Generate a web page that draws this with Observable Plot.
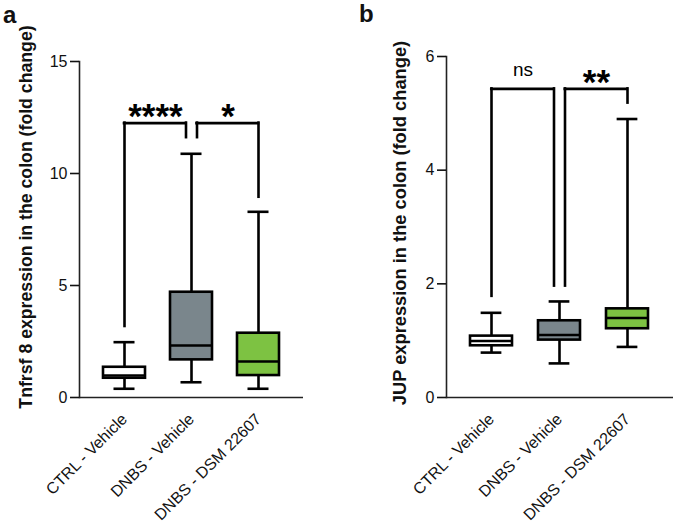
<!DOCTYPE html>
<html><head><meta charset="utf-8">
<script src="https://cdn.jsdelivr.net/npm/d3@7"></script>
<script src="https://cdn.jsdelivr.net/npm/@observablehq/plot@0.6"></script>
<style>
body{margin:0;background:#fff;}
#wrap{position:relative;width:675px;height:527px;font-family:"Liberation Sans",Arial,sans-serif;overflow:hidden;}
.panel{position:absolute;top:0;}
.letter{position:absolute;font-weight:bold;font-size:24px;line-height:26px;color:#111;}
</style></head><body>
<div id="wrap">
  <div id="pa" class="panel" style="left:0px"></div>
  <div id="pb" class="panel" style="left:340px"></div>
  <div class="letter" style="left:3px;top:2px">a</div>
  <div class="letter" style="left:359px;top:1px">b</div>
</div>
<script>
// ---------- data ----------
const groups = ["CTRL - Vehicle", "DNBS - Vehicle", "DNBS - DSM 22607"];
const boxFills = ["#ffffff", "#7a868c", "#7dc242"];

// panel a: Tnfrsf 8
const aLabel = "Tnfrsf 8 expression in the colon (fold change)";
const aMin = [0.39, 0.68, 0.39];
const aQ1 = [0.86, 1.68, 0.98];
const aMed = [0.98, 2.32, 1.61];
const aQ3 = [1.35, 4.70, 2.87];
const aMax = [2.47, 10.88, 8.29];
const aTicks = [0, 5, 10, 15];
const aCompFrom = ["CTRL - Vehicle", "DNBS - Vehicle"];
const aCompTo = ["DNBS - Vehicle", "DNBS - DSM 22607"];
const aCompY = [12.25, 12.25];
const aCompYFrom = [3.17, 11.6];
const aCompYTo = [11.6, 8.94];
const aCompText = ["****", "*"];

// panel b: JUP
const bLabel = "JUP expression in the colon (fold change)";
const bMin = [0.79, 0.60, 0.89];
const bQ1 = [0.91, 1.01, 1.21];
const bMed = [0.995, 1.10, 1.40];
const bQ3 = [1.08, 1.35, 1.56];
const bMax = [1.49, 1.69, 4.90];
const bTicks = [0, 2, 4, 6];
const bCompFrom = ["CTRL - Vehicle", "DNBS - Vehicle"];
const bCompTo = ["DNBS - Vehicle", "DNBS - DSM 22607"];
const bCompY = [5.43, 5.43];
const bCompYFrom = [1.78, 1.96];
const bCompYTo = [1.96, 5.18];
const bCompText = ["ns", "**"];

// ---------- drawing ----------
const FONT = "'Liberation Sans', Arial, sans-serif";
const LW = 2.6;

function panel(o) {
  const rows = groups.map((g, i) => ({group: g, fill: boxFills[i], min: o.min[i], q1: o.q1[i], med: o.med[i], q3: o.q3[i], max: o.max[i]}));
  const comps = o.from.map((f, i) => ({from: f, to: o.to[i], y: o.y[i], yFrom: o.yFrom[i], yTo: o.yTo[i], text: o.text[i]}));
  const pi = 0.378, po = 0.349;
  const innerW = o.width - o.marginLeft - o.marginRight;
  const step = innerW / (groups.length - pi + 2 * po);
  const bw = step * (1 - pi);
  const gap = 5.5;
  const line = {stroke: "#000", strokeWidth: LW};
  const marks = [
    Plot.ruleX(rows, {x: "group", y1: "q3", y2: "max", ...line}),
    Plot.ruleX(rows, {x: "group", y1: "min", y2: "q1", ...line}),
    Plot.tickY(rows, {x: "group", y: "max", insetLeft: bw / 4, insetRight: bw / 4, ...line}),
    Plot.tickY(rows, {x: "group", y: "min", insetLeft: bw / 4, insetRight: bw / 4, ...line}),
    Plot.barY(rows, {x: "group", y1: "q1", y2: "q3", fill: "fill", ...line}),
    Plot.tickY(rows, {x: "group", y: "med", ...line}),
    Plot.ruleY([0], {stroke: "#222", strokeWidth: 1.6}),
    Plot.frame({anchor: "left", stroke: "#222", strokeWidth: 1.6}),
    Plot.axisY({ticks: o.ticks, tickFormat: d => String(d), tickSize: 9, tickPadding: 3, fontSize: 16, label: null, strokeWidth: 1.6}),
    Plot.axisX({tickSize: 0, tickRotate: -45, tickPadding: 19, fontSize: 16, label: null}),
    Plot.text([o.label], {text: d => d, frameAnchor: "left", textAnchor: "middle", rotate: -90, dx: o.labelDx, dy: o.labelDy, fontSize: o.labelSize, fontWeight: "bold"})
  ];
  comps.forEach(c => {
    const fi = groups.indexOf(c.from), ti = groups.indexOf(c.to);
    const fromOff = comps.some(d => d.to === c.from) ? gap : 0;
    const toOff = comps.some(d => d.from === c.to) ? -gap : 0;
    const bl = {...line, strokeLinecap: "square"};
    marks.push(
      Plot.ruleX([c], {x: "from", y1: "yFrom", y2: "y", dx: fromOff, ...bl}),
      Plot.ruleX([c], {x: "to", y1: "yTo", y2: "y", dx: toOff, ...bl}),
      Plot.ruleY([c], {y: "y", x1: "from", x2: "to", insetLeft: bw / 2 + fromOff, insetRight: bw / 2 - toOff, ...bl})
    );
    const mid = (step * (ti - fi) + fromOff + toOff) / 2;
    const isStar = c.text.includes("*");
    marks.push(Plot.text([c], {x: "from", y: "y", text: "text", dx: mid,
      dy: isStar ? -6.5 : -19, fontSize: isStar ? 35 : 19, fontWeight: isStar ? "bold" : "normal", fill: "#000"}));
  });
  return Plot.plot({
    width: o.width, height: 527,
    marginLeft: o.marginLeft, marginRight: o.marginRight, marginTop: o.marginTop, marginBottom: 130,
    x: {domain: groups, paddingInner: pi, paddingOuter: po},
    y: {domain: o.domain},
    color: {type: "identity"},
    style: {fontFamily: FONT, color: "#111", background: "transparent", overflow: "visible"},
    marks
  });
}

document.getElementById("pa").append(panel({
  min: aMin, q1: aQ1, med: aMed, q3: aQ3, max: aMax, ticks: aTicks, domain: [0, 15], label: aLabel,
  from: aCompFrom, to: aCompTo, y: aCompY, yFrom: aCompYFrom, yTo: aCompYTo, text: aCompText,
  width: 335, marginLeft: 79, marginRight: 32, marginTop: 61, labelDx: -53, labelDy: -12.5, labelSize: 17.7
}));
document.getElementById("pb").append(panel({
  min: bMin, q1: bQ1, med: bMed, q3: bQ3, max: bMax, ticks: bTicks, domain: [0, 6], label: bLabel,
  from: bCompFrom, to: bCompTo, y: bCompY, yFrom: bCompYFrom, yTo: bCompYTo, text: bCompText,
  width: 335, marginLeft: 106, marginRight: 2, marginTop: 56, labelDx: -46, labelDy: -4, labelSize: 18.3
}));
</script>
</body></html>
